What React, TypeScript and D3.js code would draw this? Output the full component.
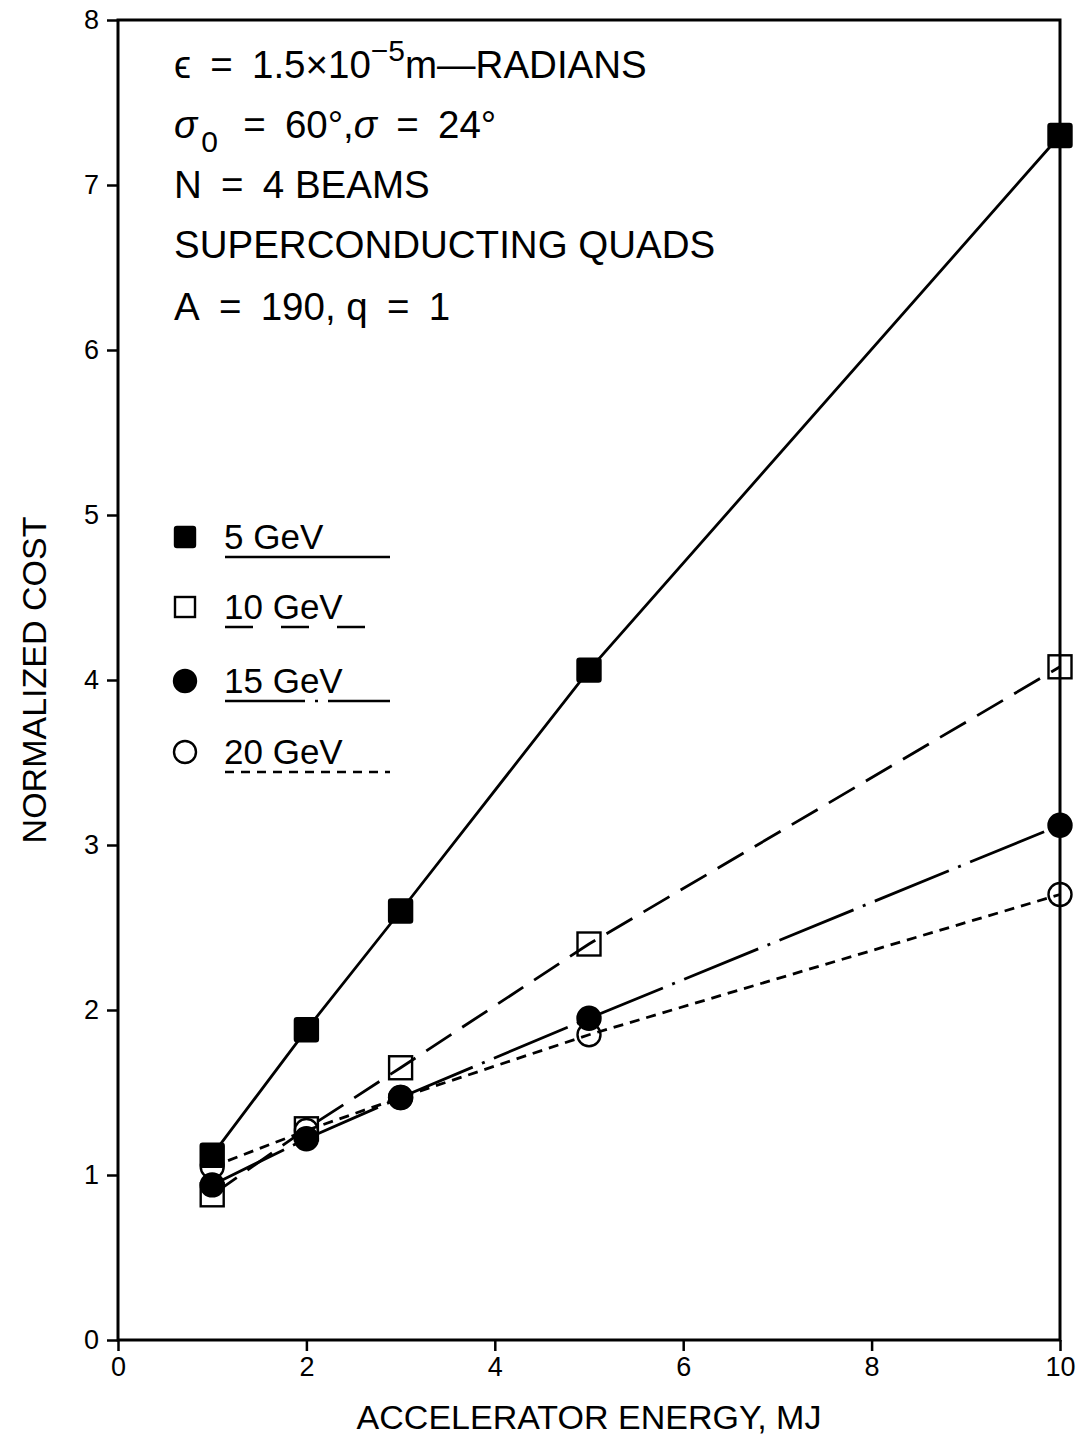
import React, { useRef, useEffect } from "react";
import * as d3 from "d3";

const energies = [1, 2, 3, 5, 10];
const cost5 = [1.12, 1.88, 2.6, 4.06, 7.3];
const cost10 = [0.88, 1.28, 1.65, 2.4, 4.08];
const cost15 = [0.94, 1.22, 1.47, 1.95, 3.12];
const cost20 = [1.05, 1.27, 1.47, 1.85, 2.7];
const seriesNames = ["5 GeV", "10 GeV", "15 GeV", "20 GeV"];
const xTicks = [0, 2, 4, 6, 8, 10];
const yTicks = [0, 1, 2, 3, 4, 5, 6, 7, 8];

const FONT = "'Liberation Sans', Arial, sans-serif";
const EQ = "\u2002=\u2002";

export default function App() {
  const svgRef = useRef<SVGSVGElement>(null);

  useEffect(() => {
    if (!svgRef.current) return;
    const width = 1077;
    const height = 1439;
    const margin = { top: 20, right: 17, bottom: 99, left: 118 };
    const innerW = width - margin.left - margin.right;
    const innerH = height - margin.top - margin.bottom;

    const svg = d3.select(svgRef.current);
    svg.selectAll("*").remove();
    svg.attr("width", width).attr("height", height);

    const g = svg.append("g").attr("transform", `translate(${margin.left},${margin.top})`);

    const x = d3.scaleLinear().domain([0, 10]).range([0, innerW]);
    const y = d3.scaleLinear().domain([0, 8]).range([innerH, 0]);

    // frame
    g.append("rect")
      .attr("width", innerW)
      .attr("height", innerH)
      .attr("fill", "none")
      .attr("stroke", "#000")
      .attr("stroke-width", 3);

    // axes
    const xAxis = g
      .append("g")
      .attr("transform", `translate(0,${innerH})`)
      .call(d3.axisBottom(x).tickValues(xTicks).tickSize(11).tickPadding(6).tickFormat(d3.format("d")));
    const yAxis = g
      .append("g")
      .call(d3.axisLeft(y).tickValues(yTicks).tickSize(11).tickPadding(8).tickFormat(d3.format("d")));
    [xAxis, yAxis].forEach((a) => {
      a.attr("font-size", 27).attr("font-family", FONT);
      a.select(".domain").remove();
      a.selectAll("line").attr("stroke", "#000").attr("stroke-width", 2.5);
      a.selectAll("text").attr("fill", "#000");
    });

    // axis titles
    svg.append("text")
      .attr("x", margin.left + x(5))
      .attr("y", 1429)
      .attr("text-anchor", "middle")
      .attr("font-family", FONT)
      .attr("font-size", 34)
      .text("ACCELERATOR ENERGY, MJ");
    svg.append("text")
      .attr("transform", `translate(46,${margin.top + innerH / 2}) rotate(-90)`)
      .attr("text-anchor", "middle")
      .attr("font-family", FONT)
      .attr("font-size", 34)
      .text("NORMALIZED COST");

    const series = [
      { name: seriesNames[0], values: cost5, dash: null, legendDash: null, legendEnd: 390, marker: "square", filled: true },
      { name: seriesNames[1], values: cost10, dash: "30,13", legendDash: "28,28", legendEnd: 368, marker: "square", filled: false },
      { name: seriesNames[2], values: cost15, dash: "80,10,3,10", legendDash: "80,10,3,10", legendEnd: 390, marker: "circle", filled: true },
      { name: seriesNames[3], values: cost20, dash: "10,7", legendDash: "9,7", legendEnd: 390, marker: "circle", filled: false },
    ];

    const line = d3
      .line<number>()
      .x((_, i) => x(energies[i]))
      .y((d) => y(d));

    const drawMarker = (sel: any, s: typeof series[0], cx: number, cy: number, size: number) => {
      if (s.marker === "square") {
        sel.append("rect")
          .attr("x", cx - size / 2)
          .attr("y", cy - size / 2)
          .attr("width", size)
          .attr("height", size)
          .attr("rx", s.filled ? 2 : 0)
          .attr("fill", s.filled ? "#000" : "none")
          .attr("stroke", "#000")
          .attr("stroke-width", 2.4);
      } else {
        sel.append("circle")
          .attr("cx", cx)
          .attr("cy", cy)
          .attr("r", size / 2)
          .attr("fill", s.filled ? "#000" : "none")
          .attr("stroke", "#000")
          .attr("stroke-width", 2.4);
      }
    };

    series.forEach((s) => {
      g.append("path")
        .datum(s.values)
        .attr("d", line)
        .attr("fill", "none")
        .attr("stroke", "#000")
        .attr("stroke-width", 2.8)
        .attr("stroke-dasharray", s.dash);
    });
    series.forEach((s) => {
      const mg = g.append("g");
      s.values.forEach((v, i) => drawMarker(mg, s, x(energies[i]), y(v), 23));
    });

    // legend
    const legendY = [537, 607, 681, 752];
    series.forEach((s, i) => {
      const lg = svg.append("g");
      drawMarker(lg, s, 185, legendY[i], s.marker === "square" ? 20 : 22);
      lg.append("text")
        .attr("x", 224)
        .attr("y", legendY[i] + 12)
        .attr("font-family", FONT)
        .attr("font-size", 35)
        .text(s.name);
      lg.append("line")
        .attr("x1", 225)
        .attr("x2", s.legendEnd)
        .attr("y1", legendY[i] + 20)
        .attr("y2", legendY[i] + 20)
        .attr("stroke", "#000")
        .attr("stroke-width", 2.5)
        .attr("stroke-dasharray", s.legendDash);
    });

    // annotation block
    const ann = svg.append("g").attr("font-family", FONT).attr("font-size", 38.5).attr("fill", "#000");
    const t1 = ann.append("text").attr("x", 174).attr("y", 78);
    t1.append("tspan").text("ϵ" + EQ + "1.5×10");
    t1.append("tspan").attr("dy", -17).attr("font-size", 30).text("−5");
    t1.append("tspan").attr("dy", 17).text("m—RADIANS");
    const t2 = ann.append("text").attr("x", 174).attr("y", 138);
    t2.append("tspan").attr("font-style", "italic").text("σ");
    t2.append("tspan").attr("dx", 4).attr("dy", 14).attr("font-size", 30).text("0");
    t2.append("tspan").attr("dx", 6).attr("dy", -14).text(EQ + "60°,");
    t2.append("tspan").attr("font-style", "italic").text("σ");
    t2.append("tspan").text(EQ + "24°");
    ann.append("text").attr("x", 174).attr("y", 198).text("N" + EQ + "4 BEAMS");
    ann.append("text").attr("x", 174).attr("y", 258).text("SUPERCONDUCTING QUADS");
    ann.append("text").attr("x", 174).attr("y", 320).text("A" + EQ + "190, q" + EQ + "1");
  }, []);

  return <svg ref={svgRef} style={{ position: "absolute", left: 0, top: 0, background: "#fff" }}></svg>;
}
